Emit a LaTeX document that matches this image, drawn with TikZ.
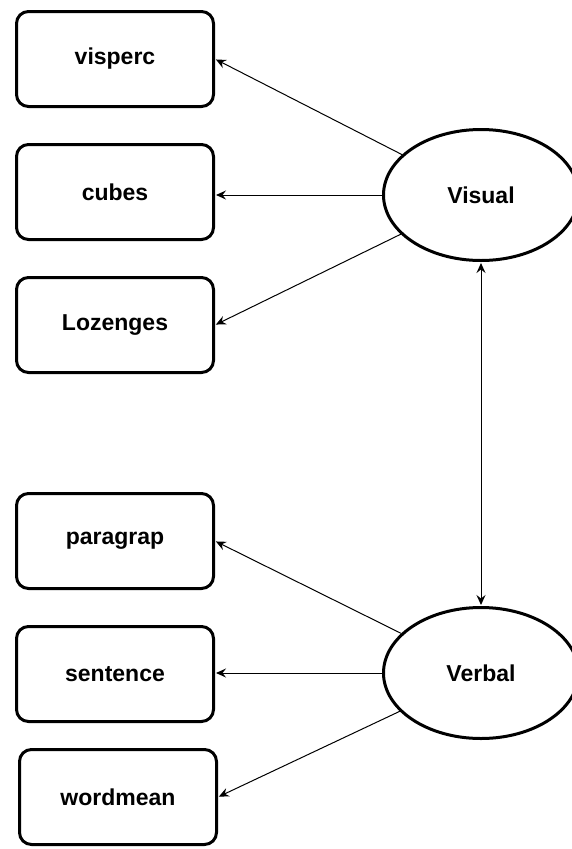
\documentclass[tikz,border=0pt]{standalone}
\usepackage{fontspec}
\setmainfont{Liberation Sans}
\usetikzlibrary{shapes.geometric, positioning, arrows.meta}

\begin{document}
\begin{tikzpicture}[x=1pt,y=-1pt,->,>={Stealth[length=10pt,width=9pt,inset=3.5pt]},shorten >=1pt,
        node distance=35pt,
        obs node/.style={rectangle,rounded corners=12pt,draw,line width=3pt,minimum width=197pt,minimum height=95pt,
            font=\fontsize{23}{27}\selectfont\bfseries},
        lat node/.style={ellipse,draw,line width=3pt,minimum width=195pt,minimum height=131pt,
            font=\fontsize{23}{27}\selectfont\bfseries}]
        \useasboundingbox (0,0) rectangle (572,849);
        \node[obs node] (visperc) at (115,59) {visperc};
        \node[obs node,below=of visperc] (cubes) {cubes};
        \node[obs node,below=of cubes] (lozenges) {Lozenges};
        \node[obs node] (paragrap) at (115,541) {paragrap};
        \node[obs node,below=of paragrap] (sentence) {sentence};
        \node[obs node,below=25pt of sentence,xshift=3pt] (wordmean) {wordmean};
        \node[lat node] (visual) at (481,195) {Visual};
        \node[lat node] (verbal) at (481,673) {Verbal};

        \path[line width=1pt]
        (visual) edge (visperc.east)
        (visual.west) edge (cubes.east |- visual.west)
        (visual) edge (lozenges.east)
        (verbal) edge (paragrap.east)
        (verbal.west) edge (sentence.east |- verbal.west)
        (verbal) edge (wordmean.east)
        (visual.south) edge[<->,shorten <=1pt] (verbal.north);
    \end{tikzpicture}
\end{document}
